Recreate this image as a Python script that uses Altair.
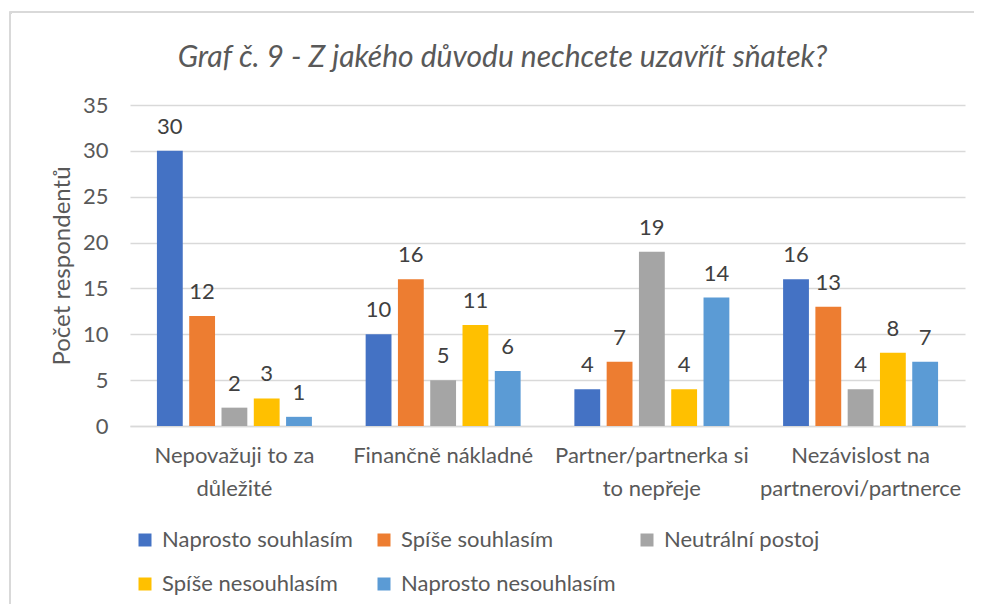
import altair as alt
import pandas as pd

categories = [
    "Nepovažuji to za\ndůležité",
    "Finančně nákladné",
    "Partner/partnerka si\nto nepřeje",
    "Nezávislost na\npartnerovi/partnerce",
]
series = ["Naprosto souhlasím", "Spíše souhlasím", "Neutrální postoj",
          "Spíše nesouhlasím", "Naprosto nesouhlasím"]
colors = ["#4472C4", "#ED7D31", "#A5A5A5", "#FFC000", "#5B9BD5"]

naprosto_souhlasim = [30, 10, 4, 16]
spise_souhlasim = [12, 16, 7, 13]
neutralni_postoj = [2, 5, 19, 4]
spise_nesouhlasim = [3, 11, 4, 8]
naprosto_nesouhlasim = [1, 6, 14, 7]

values = [naprosto_souhlasim, spise_souhlasim, neutralni_postoj,
          spise_nesouhlasim, naprosto_nesouhlasim]

rows = []
for s, vals in zip(series, values):
    for c, v in zip(categories, vals):
        rows.append({"kategorie": c, "postoj": s, "pocet": v})
df = pd.DataFrame(rows)

FONT = "Lato"
TXT = "#595959"
FS = 22

x_enc = alt.X("kategorie:N", sort=categories, title=None,
              scale=alt.Scale(paddingInner=0.2575, paddingOuter=0.129),
              axis=alt.Axis(labelExpr="split(datum.label, '\\n')", labelAngle=0,
                            labelFont=FONT, labelFontSize=FS, labelColor=TXT,
                            labelLineHeight=33, labelPadding=19, ticks=False,
                            domainColor="#D9D9D9", domainWidth=1.5, grid=False,
                            labelLimit=300))
xoff = alt.XOffset("postoj:N", sort=series,
                   scale=alt.Scale(paddingInner=0.2, paddingOuter=0))
y_enc = alt.Y("pocet:Q", title="Počet respondentů",
              scale=alt.Scale(domain=[0, 35], nice=False),
              axis=alt.Axis(values=list(range(0, 36, 5)), domain=False, ticks=False,
                            labelFont=FONT, labelFontSize=FS, labelColor=TXT,
                            labelPadding=22, gridColor="#D9D9D9", gridWidth=1.5,
                            titleFont=FONT, titleFontSize=24, titleColor=TXT,
                            titleFontWeight="normal", titlePadding=8))

border = alt.Chart(df).mark_rect(fillOpacity=0, stroke="#D9D9D9", strokeWidth=2,
                                 cornerRadius=2).encode(
    x=alt.value(-120), x2=alt.value(1000), y=alt.value(-93), y2=alt.value(700))

bars = alt.Chart(df).mark_bar().encode(
    x=x_enc, xOffset=xoff, y=y_enc,
    color=alt.Color("postoj:N", sort=series,
                    scale=alt.Scale(domain=series, range=colors),
                    legend=alt.Legend(title=None, orient="none", legendX=4, legendY=424,
                                      direction="horizontal",
                                      columns=3, symbolType="square", symbolSize=169,
                                      symbolStrokeWidth=0, labelFont=FONT,
                                      labelFontSize=FS, labelColor=TXT,
                                      columnPadding=20, rowPadding=22, labelOffset=6,
                                      labelLimit=300)),
)

labels = alt.Chart(df).mark_text(baseline="alphabetic", dy=-17, font=FONT, fontSize=FS,
                                 color="#404040").encode(
    x=alt.X("kategorie:N", sort=categories), xOffset=xoff,
    y="pocet:Q", text="pocet:Q")

chart = alt.layer(border, bars, labels).properties(
    width=835, height=321,
    autosize=alt.AutoSizeParams(type="none"),
    padding={"left": 122, "top": 97, "right": 9, "bottom": 178},
    title=alt.TitleParams("Graf č. 9 - Z jakého důvodu nechcete uzavřít sňatek?",
                          font=FONT, fontSize=30, fontStyle="italic",
                          fontWeight="normal", color=TXT, anchor="middle",
                          frame="group", baseline="alphabetic",
                          dx=-45, offset=-86),
).configure_view(stroke=None)

chart.save("out.html", embed_options={"renderer": "svg", "actions": False})
